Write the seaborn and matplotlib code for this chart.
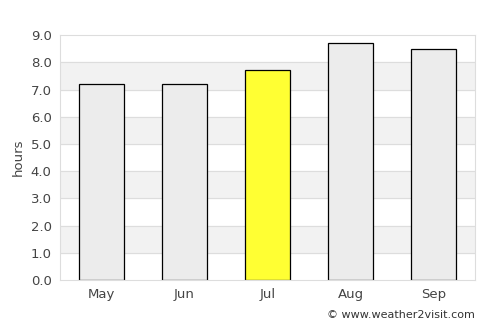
import pandas as pd
import seaborn as sns
import matplotlib.pyplot as plt

months = ["May", "Jun", "Jul", "Aug", "Sep"]
hours = [7.2, 7.2, 7.7, 8.7, 8.5]
colors = ["#ececec", "#ececec", "#ffff33", "#ececec", "#ececec"]

df = pd.DataFrame({"month": months, "hours": hours})

sns.set_style("white")
fig = plt.figure(figsize=(5, 3.25), dpi=100)
ax = fig.add_axes([0.12, 0.1385, 0.83, 0.7535])

# alternating background bands
for y0 in range(1, 9, 2):
    ax.axhspan(y0, y0 + 1, color="#f2f2f2", zorder=0)
for y in range(1, 9):
    ax.axhline(y, color="#dddddd", linewidth=0.8, zorder=0.5)

sns.barplot(data=df, x="month", y="hours", hue="month", palette=colors,
            saturation=1, width=0.55, edgecolor="black", linewidth=0.9,
            legend=False, ax=ax, zorder=2)

ax.set_ylim(0, 9)
ax.set_yticks(range(0, 10))
ax.set_yticklabels([f"{v:.1f}" for v in range(0, 10)])
ax.set_xlabel("")
ax.set_ylabel("hours", color="#444444", fontsize=9.5)
ax.tick_params(colors="#444444", labelsize=9.5, length=0, pad=6)
for s in ax.spines.values():
    s.set_color("#dddddd")

fig.text(0.95, 0.015, "© www.weather2visit.com", ha="right", va="bottom",
         fontsize=8, color="#333333")

fig.savefig("out.png", dpi=100)
